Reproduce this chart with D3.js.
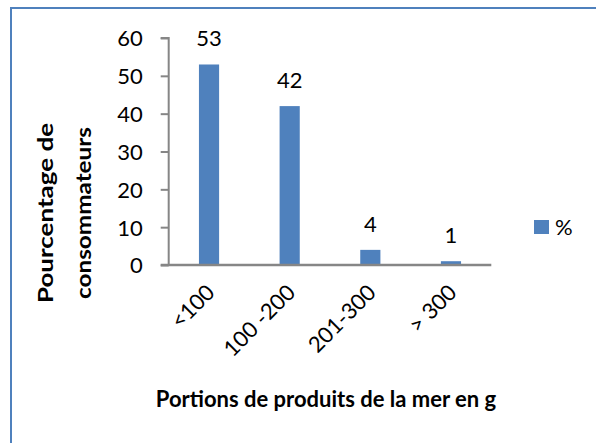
<!DOCTYPE html>
<html>
<head>
<meta charset="utf-8">
<script src="https://cdn.jsdelivr.net/npm/d3@7"></script>
<style>
  html, body { margin: 0; padding: 0; background: #fff; }
  svg { display: block; font-family: Lato, "Open Sans", sans-serif; }
</style>
</head>
<body>
<svg id="chart" width="596" height="443"></svg>
<script>
// Portion sizes of seafood and share of consumers (%)
const categories = ["<100", "100 -200", "201-300", "> 300"];
const values = [53, 42, 4, 1];
const yTicks = [0, 10, 20, 30, 40, 50, 60];
const seriesName = "%";
const yTitleLines = ["Pourcentage de", "consommateurs"];
const xTitle = "Portions de produits de la mer en g";

const svg = d3.select("#chart");
const barColor = "#4f81bd";
const axisColor = "#868686";
const fontSize = 22;

// Chart frame
svg.append("path")
  .attr("d", "M11,443 L11,8 L596,8")
  .attr("fill", "none")
  .attr("stroke", barColor)
  .attr("stroke-width", 2);

const plot = { left: 168.7, right: 491.3, top: 38, bottom: 265 };

const x = d3.scaleBand()
  .domain(categories)
  .range([plot.left, plot.right])
  .paddingInner(0.75)
  .paddingOuter(0.375);

const y = d3.scaleLinear()
  .domain([0, 60])
  .range([plot.bottom, plot.top]);

// Y axis
const yAxis = svg.append("g")
  .attr("transform", `translate(${plot.left},0)`)
  .call(d3.axisLeft(y).tickValues(yTicks).tickSize(8).tickPadding(18));
yAxis.select(".domain").attr("stroke", axisColor).attr("stroke-width", 2)
  .attr("d", `M-8,${plot.top}H0V${plot.bottom}`);
yAxis.selectAll(".tick line").attr("stroke", axisColor).attr("stroke-width", 2);
yAxis.selectAll(".tick text")
  .attr("fill", "#000")
  .attr("font-size", fontSize)
  .attr("font-family", "Lato, sans-serif")
  .attr("dy", "0.36em");

// Bars
svg.append("g").selectAll("rect")
  .data(values)
  .join("rect")
  .attr("x", (d, i) => x(categories[i]))
  .attr("y", d => y(d))
  .attr("width", x.bandwidth())
  .attr("height", d => y(0) - y(d))
  .attr("fill", barColor);

// X axis
const xAxis = svg.append("g")
  .attr("transform", `translate(0,${plot.bottom})`)
  .call(d3.axisBottom(x).tickSize(0).tickPadding(0));
xAxis.select(".domain").attr("stroke", axisColor).attr("stroke-width", 2.5)
  .attr("d", `M${plot.left - 8},0H${plot.right}`);
xAxis.selectAll(".tick text")
  .attr("fill", "#000")
  .attr("font-size", fontSize)
  .attr("font-family", "Lato, sans-serif")
  .attr("text-anchor", "end")
  .attr("dy", null)
  .attr("y", 0)
  .attr("transform", "translate(7,29) rotate(-45)");

// Value labels
svg.append("g").selectAll("text")
  .data(values)
  .join("text")
  .attr("x", (d, i) => x(categories[i]) + x.bandwidth() / 2)
  .attr("y", d => y(d) - 18)
  .attr("text-anchor", "middle")
  .attr("font-size", fontSize)
  .text(d => d);

// Y title (two lines, rotated)
const yTitle = svg.append("text")
  .attr("transform", "translate(0,213) rotate(-90)")
  .attr("text-anchor", "middle")
  .attr("font-size", 21)
  .attr("font-weight", "bold");
yTitle.selectAll("tspan")
  .data(yTitleLines)
  .join("tspan")
  .attr("x", 0)
  .attr("y", (d, i) => i === 0 ? 53 : 91)
  .attr("textLength", (d, i) => i === 0 ? 180 : 172)
  .attr("lengthAdjust", "spacingAndGlyphs")
  .text(d => d);

// X title
svg.append("text")
  .attr("x", 326)
  .attr("y", 407)
  .attr("text-anchor", "middle")
  .attr("font-size", fontSize)
  .attr("font-weight", "bold")
  .text(xTitle);

// Legend
const legend = svg.append("g").attr("transform", "translate(534,220)");
legend.append("rect").attr("width", 15).attr("height", 14).attr("fill", barColor);
legend.append("text").attr("x", 21).attr("y", 15).attr("font-size", fontSize).text(seriesName);
</script>
</body>
</html>
